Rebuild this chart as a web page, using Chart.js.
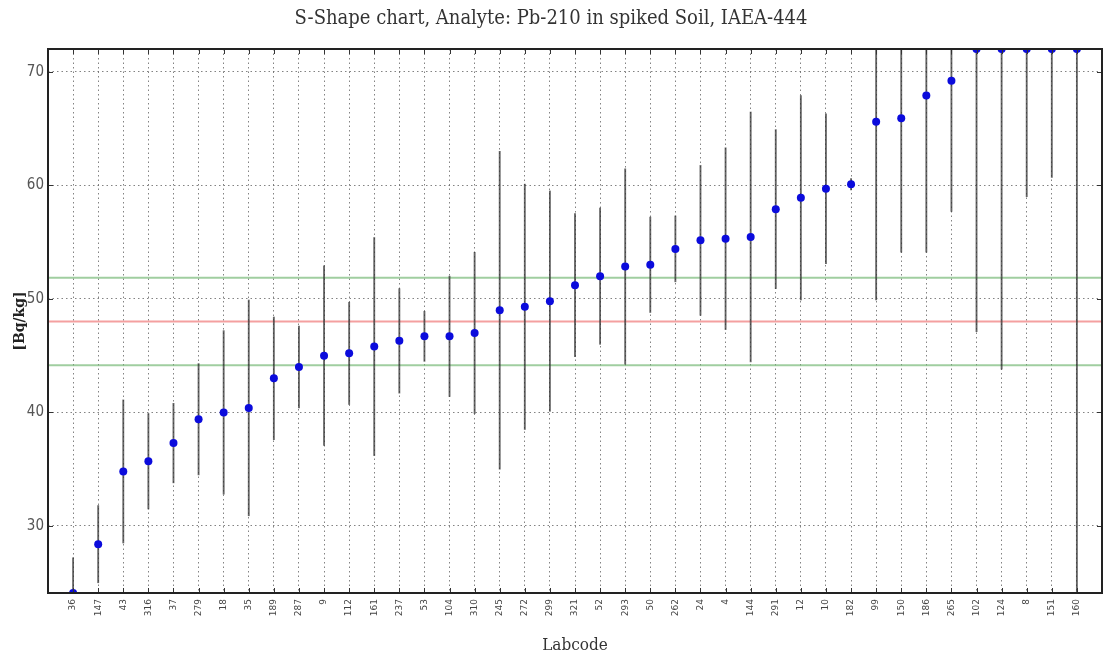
<!DOCTYPE html>
<html>
<head>
<meta charset="utf-8">
<script src="https://cdn.jsdelivr.net/npm/chart.js@4/dist/chart.umd.min.js"></script>
<style>
  html, body { margin: 0; padding: 0; background: #fff; }
  #wrap { width: 1107px; height: 660px; position: relative; }
</style>
</head>
<body>
<div id="wrap"><canvas id="graph-1"></canvas></div>
<script>
// lab codes, sorted by reported value
const labcodes = ["36", "147", "43", "316", "37", "279", "18", "35", "189", "287", "9", "112", "161", "237", "53", "104", "310", "245", "272", "299", "321", "52", "293", "50", "262", "24", "4", "144", "291", "12", "10", "182", "99", "150", "186", "265", "102", "124", "8", "151", "160"];
// reported activity [Bq/kg]
const values = [24.1, 28.4, 34.8, 35.7, 37.3, 39.4, 40.0, 40.4, 43.0, 44.0, 45.0, 45.2, 45.8, 46.3, 46.7, 46.7, 47.0, 49.0, 49.3, 49.8, 51.2, 52.0, 52.85, 53.0, 54.4, 55.15, 55.3, 55.45, 57.9, 58.9, 59.7, 60.1, 65.6, 65.9, 67.9, 69.2, 72.0, 72.0, 72.0, 72.0, 72.0];
// reported uncertainty [Bq/kg]
const uncert = [3.1, 3.4, 6.3, 4.2, 3.5, 4.9, 7.2, 9.5, 5.4, 3.6, 7.9, 4.5, 9.6, 4.6, 2.2, 5.3, 7.1, 14.0, 10.8, 9.7, 6.3, 6.0, 8.6, 4.2, 2.9, 6.6, 8.0, 11.0, 7.0, 9.0, 6.6, 0.5, 15.7, 11.8, 13.8, 11.5, 24.9, 28.2, 13.0, 11.3, 50.0];
// target value and acceptance limits
const targetValue = 48.0;
const limits = [44.15, 51.85];
const yTicks = [30, 40, 50, 60, 70];

const points = values.map((v, i) => ({ x: i, y: v }));
const errBars = values.map((v, i) => ({ x: i, y: [v - uncert[i], v + uncert[i]] }));
const hline = (y) => [{ x: -1, y: y }, { x: labcodes.length, y: y }];

// matplotlib-like frame with inward ticks
const framePlugin = {
  id: "frame",
  afterDraw(chart) {
    const { ctx, chartArea: a, scales } = chart;
    ctx.save();
    ctx.strokeStyle = "#333";
    ctx.lineWidth = 1;
    ctx.beginPath();
    labcodes.forEach((l, i) => {
      const x = Math.round(scales.x.getPixelForValue(i)) + 0.5;
      ctx.moveTo(x, a.top); ctx.lineTo(x, a.top + 5);
      ctx.moveTo(x, a.bottom); ctx.lineTo(x, a.bottom - 5);
    });
    yTicks.forEach((t) => {
      const y = Math.round(scales.y.getPixelForValue(t)) + 0.5;
      ctx.moveTo(a.left, y); ctx.lineTo(a.left + 5, y);
      ctx.moveTo(a.right, y); ctx.lineTo(a.right - 5, y);
    });
    ctx.stroke();
    ctx.lineWidth = 2;
    ctx.strokeStyle = "#222";
    ctx.strokeRect(a.left, a.top, a.right - a.left, a.bottom - a.top);
    ctx.restore();
  },
};

const ctx = document.getElementById("graph-1").getContext("2d");

const sShape = new Chart(ctx, {
  data: {
    datasets: [
      {
        type: "scatter",
        data: points,
        backgroundColor: "#0b0bdc",
        borderColor: "#0b0bdc",
        pointRadius: 4,
        borderWidth: 0,
        clip: 0,
        order: 0,
      },
      {
        type: "bar",
        data: errBars,
        backgroundColor: "rgba(50, 50, 50, 0.75)",
        barThickness: 1.2,
        grouped: false,
        clip: 0,
        order: 1,
      },
      {
        type: "line",
        data: hline(targetValue),
        borderColor: "rgba(240, 120, 120, 0.7)",
        borderWidth: 2,
        pointRadius: 0,
        order: 2,
      },
      {
        type: "line",
        data: hline(limits[0]),
        borderColor: "rgba(120, 185, 120, 0.7)",
        borderWidth: 2,
        pointRadius: 0,
        order: 2,
      },
      {
        type: "line",
        data: hline(limits[1]),
        borderColor: "rgba(120, 185, 120, 0.7)",
        borderWidth: 2,
        pointRadius: 0,
        order: 2,
      },
    ],
  },
  options: {
    responsive: true,
    maintainAspectRatio: false,
    animation: false,
    layout: { padding: { left: 0, right: 5, top: 0, bottom: 0 } },
    plugins: {
      legend: { display: false },
      tooltip: { enabled: false },
      title: {
        display: true,
        text: "S-Shape chart, Analyte: Pb-210 in spiked Soil, IAEA-444",
        color: "#333",
        font: { family: "'DejaVu Serif Condensed', 'Liberation Serif', serif", size: 20, weight: "normal" },
        padding: { top: 7, bottom: 18 },
      },
    },
    scales: {
      x: {
        type: "linear",
        min: -1,
        max: labcodes.length,
        offset: false,
        afterFit(scale) { scale.height = 67; },
        afterBuildTicks(scale) {
          scale.ticks = labcodes.map((l, i) => ({ value: i }));
        },
        ticks: {
          autoSkip: false,
          minRotation: 90,
          maxRotation: 90,
          padding: 6,
          color: "#444",
          font: { family: "'DejaVu Sans', sans-serif", size: 9 },
          callback: (v) => labcodes[v] ?? "",
        },
        grid: {
          offset: false,
          drawTicks: false,
          color: "rgba(90, 90, 90, 0.75)",
          lineWidth: 1,
        },
        border: { display: false, dash: [1.5, 3] },
        title: {
          display: true,
          text: "Labcode",
          color: "#333",
          font: { family: "'DejaVu Serif Condensed', 'Liberation Serif', serif", size: 17 },
          padding: { top: 0, bottom: 4 },
        },
      },
      y: {
        min: 24.1,
        max: 72,
        afterFit(scale) { scale.width = 48; },
        afterBuildTicks(scale) {
          scale.ticks = yTicks.map((t) => ({ value: t }));
        },
        ticks: {
          padding: 4,
          color: "#555",
          font: { family: "'DejaVu Sans Condensed', 'Liberation Sans Narrow', 'DejaVu Sans', sans-serif", size: 15 },
        },
        grid: {
          drawTicks: false,
          color: "rgba(90, 90, 90, 0.75)",
          lineWidth: 1,
        },
        border: { display: false, dash: [1.5, 3] },
        title: {
          display: true,
          text: "[Bq/kg]",
          color: "#222",
          font: { family: "'DejaVu Serif', 'Liberation Serif', serif", size: 14, weight: "bold" },
          padding: { top: 12, bottom: 0 },
        },
      },
    },
  },
  plugins: [framePlugin],
});
</script>
</body>
</html>
